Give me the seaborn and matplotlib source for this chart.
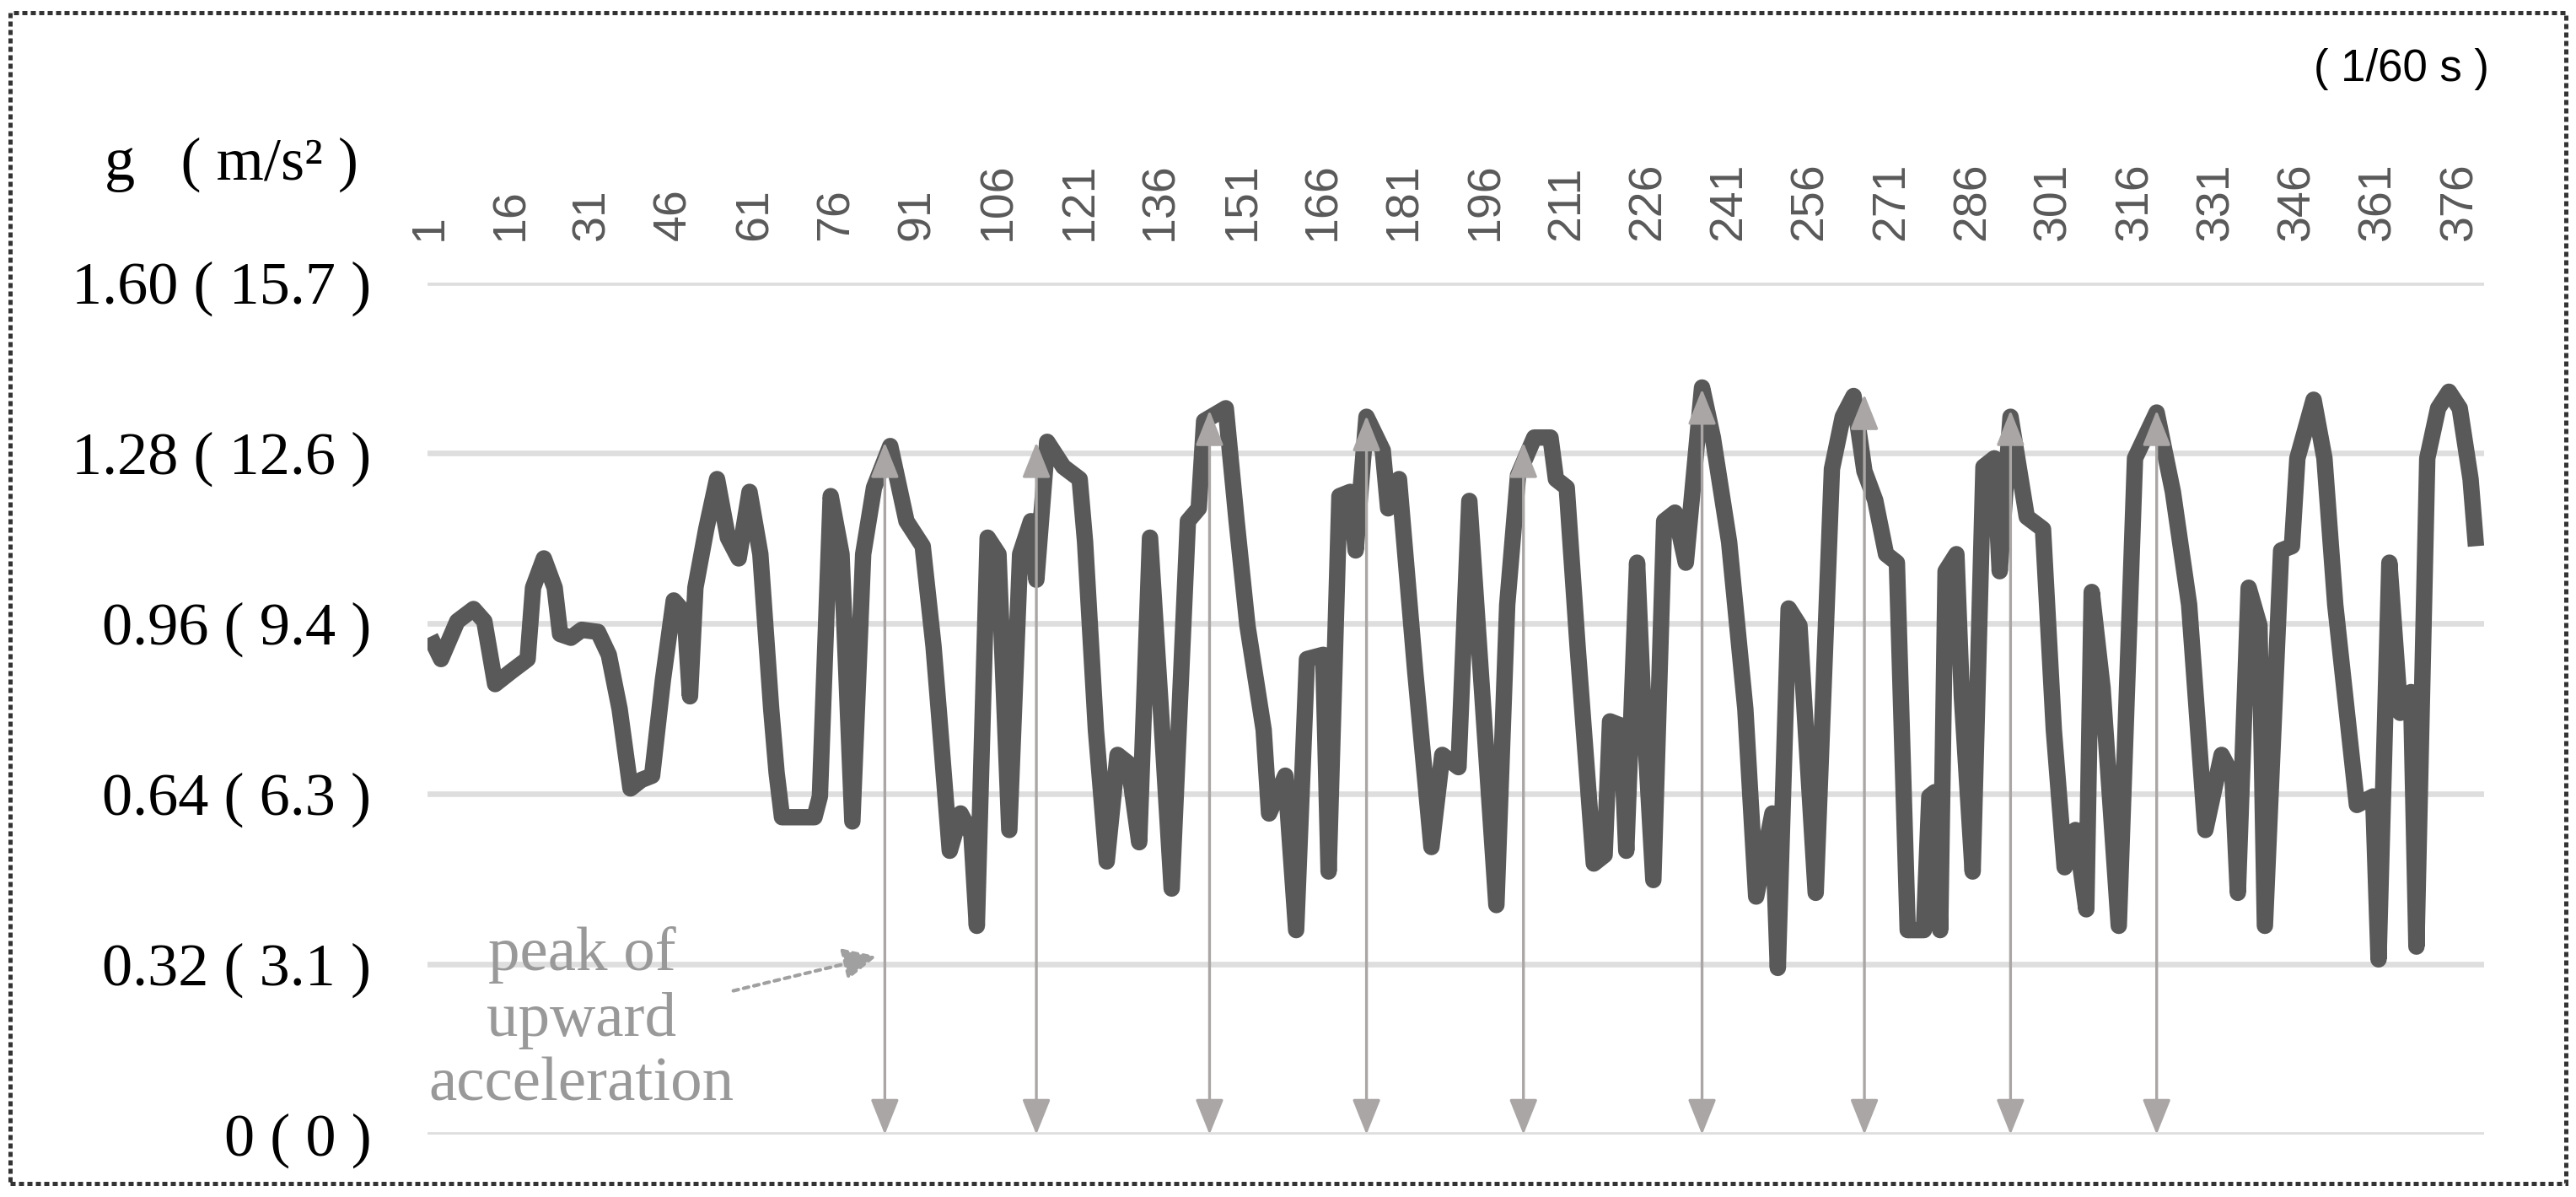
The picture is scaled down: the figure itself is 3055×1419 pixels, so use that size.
import matplotlib
matplotlib.use('Agg')
import matplotlib.pyplot as plt
from matplotlib.patches import Rectangle
import seaborn as sns
import pandas as pd


# Muestra (1/60 s) y aceleración (g).
muestra = [1, 3, 6, 9, 11, 13, 16, 19, 20, 22,
           24, 25, 27, 29, 32, 34, 36, 38, 40, 42,
           44, 46, 48, 49, 50, 52, 54, 56, 58, 60,
           62, 64, 65, 66, 72, 73, 75, 77, 79, 81,
           83, 86, 89, 92, 94, 95, 97, 99, 101, 102,
           104, 106, 108, 110, 112, 113, 115, 118, 121, 122,
           124, 126, 128, 130, 132, 134, 136, 138, 141, 143,
           144, 148, 150, 152, 155, 156, 159, 161, 163, 166,
           167, 169, 171, 172, 174, 177, 178, 180, 183, 186,
           188, 191, 193, 198, 200, 202, 205, 208, 209, 211,
           213, 216, 218, 219, 221, 222, 224, 225, 227, 229,
           231, 233, 234, 236, 238, 241, 244, 246, 249, 250,
           252, 254, 257, 260, 262, 264, 266, 268, 270, 272,
           274, 277, 278, 279, 280, 281, 283, 284, 286, 288,
           290, 291, 293, 296, 299, 301, 303, 305, 307, 308,
           310, 313, 316, 320, 323, 326, 329, 332, 334, 335,
           337, 339, 340, 343, 345, 346, 349, 351, 353, 357,
           360, 361, 363, 365, 367, 368, 370, 372, 374, 376,
           378, 379]
aceleracion = [0.935, 0.893, 0.964, 0.987, 0.964, 0.846, 0.870, 0.893, 1.027, 1.082,
               1.027, 0.940, 0.933, 0.948, 0.944, 0.901, 0.799, 0.650, 0.666, 0.674,
               0.854, 1.003, 0.980, 0.823, 1.027, 1.137, 1.231, 1.121, 1.082, 1.207,
               1.090, 0.800, 0.680, 0.596, 0.596, 0.635, 1.199, 1.090, 0.588, 1.090,
               1.215, 1.293, 1.152, 1.105, 0.917, 0.792, 0.533, 0.603, 0.564, 0.392,
               1.121, 1.090, 0.572, 1.090, 1.152, 1.042, 1.301, 1.254, 1.231, 1.113,
               0.760, 0.513, 0.713, 0.697, 0.549, 1.121, 0.799, 0.462, 1.152, 1.176,
               1.340, 1.364, 1.152, 0.956, 0.760, 0.603, 0.674, 0.384, 0.893, 0.901,
               0.494, 1.199, 1.207, 1.097, 1.348, 1.285, 1.176, 1.231, 0.870, 0.540,
               0.713, 0.690, 1.190, 0.431, 0.995, 1.238, 1.309, 1.309, 1.231, 1.215,
               0.917, 0.509, 0.525, 0.776, 0.768, 0.533, 1.074, 0.839, 0.478, 1.152,
               1.168, 1.074, 1.183, 1.403, 1.309, 1.113, 0.799, 0.447, 0.603, 0.313,
               0.988, 0.956, 0.454, 1.250, 1.348, 1.387, 1.246, 1.191, 1.090, 1.074,
               0.384, 0.384, 0.635, 0.643, 0.384, 1.058, 1.090, 0.823, 0.494, 1.254,
               1.270, 1.058, 1.348, 1.160, 1.137, 0.760, 0.502, 0.572, 0.423, 1.019,
               0.839, 0.392, 1.270, 1.356, 1.207, 0.995, 0.572, 0.713, 0.674, 0.454,
               1.027, 0.956, 0.392, 1.097, 1.105, 1.270, 1.380, 1.270, 0.995, 0.619,
               0.635, 0.329, 1.074, 0.792, 0.831, 0.353, 1.270, 1.364, 1.395, 1.364,
               1.231, 1.105]

# Picos de aceleración hacia arriba (flechas dobles).
picos_x = [85, 113, 145, 174, 203, 236, 266, 293, 320]
picos_g = [1.30, 1.30, 1.36, 1.35, 1.30, 1.40, 1.39, 1.36, 1.36]

marcas_y = [0, 0.32, 0.64, 0.96, 1.28, 1.60]
etiquetas_y = ['0 ( 0 )', '0.32 ( 3.1 )', '0.64 ( 6.3 )', '0.96 ( 9.4 )',
               '1.28 ( 12.6 )', '1.60 ( 15.7 )']
marcas_x = list(range(1, 377, 15))

SERIF = 'Liberation Serif'
SANS = 'Liberation Sans'
GRIS_FLECHA = '#aaa6a6'

sns.set_style('white')

W, H = 3055, 1419
fig = plt.figure(figsize=(W / 200, H / 200), dpi=200)
ax = fig.add_axes([507 / W, 1 - 1345 / H, (2946 - 507) / W, (1345 - 335) / H])

df = pd.DataFrame({'muestra': muestra, 'g': aceleracion})
sns.lineplot(data=df, x='muestra', y='g', color='#595959', linewidth=7,
             sort=False, estimator=None, ax=ax, zorder=3)
ax.lines[0].set_solid_joinstyle('round')
ax.lines[0].set_solid_capstyle('butt')

ax.set_xlim(0.5, 380.5)
ax.set_ylim(0, 1.60)
ax.set_xlabel('')
ax.set_ylabel('')

for s in ax.spines.values():
    s.set_visible(False)

ax.set_yticks(marcas_y, etiquetas_y)
ax.yaxis.grid(True, color='#dedede', linewidth=2.4, zorder=0)
ax.set_axisbelow(True)
ax.tick_params(axis='y', length=0, pad=24, labelsize=26, labelcolor='black')
for lbl in ax.get_yticklabels():
    lbl.set_fontfamily(SERIF)

ax.xaxis.tick_top()
ax.set_xticks(marcas_x)
ax.tick_params(axis='x', length=0, pad=18, labelsize=20, labelcolor='#595959',
               labelrotation=90)
for lbl in ax.get_xticklabels():
    lbl.set_fontfamily(SANS)

# Flechas dobles desde cada pico hasta cero.
for px, pg in zip(picos_x, picos_g):
    ax.annotate('', xy=(px, pg), xytext=(px, 0),
                arrowprops=dict(arrowstyle='<|-|>,head_length=0.5,head_width=0.2',
                                mutation_scale=26, color=GRIS_FLECHA, lw=1.2,
                                shrinkA=0, shrinkB=0), zorder=4)

# Texto explicativo y flecha punteada.
ax.text(29, 0.215, 'peak of\nupward\nacceleration', ha='center', va='center',
        fontsize=27, color='#999999', family=SERIF, linespacing=1.18, zorder=5)
ax.annotate('', xy=(83.5, 0.335), xytext=(57, 0.27),
            arrowprops=dict(arrowstyle='-|>,head_length=0.5,head_width=0.24',
                            mutation_scale=24, color='#a0a0a0', lw=1.5,
                            linestyle=(0, (1.5, 1.5)), shrinkA=0, shrinkB=0),
            zorder=5)

fig.text(425 / W, 1 - 195 / H, 'g   ( m/s² )', ha='right', va='center',
         fontsize=26, family=SERIF, color='black')
fig.text(2952 / W, 1 - 82 / H, '( 1/60 s )', ha='right', va='center',
         fontsize=19, family=SANS, color='black')

# Marco punteado alrededor de la figura.
fig.patches.append(Rectangle((12 / W, 16 / H), (3043 - 12) / W, (1404 - 16) / H,
                             transform=fig.transFigure, fill=False,
                             linestyle=(0, (1.2, 0.8)), linewidth=1.8,
                             edgecolor='#333333'))

fig.savefig('out.png', dpi=200)
